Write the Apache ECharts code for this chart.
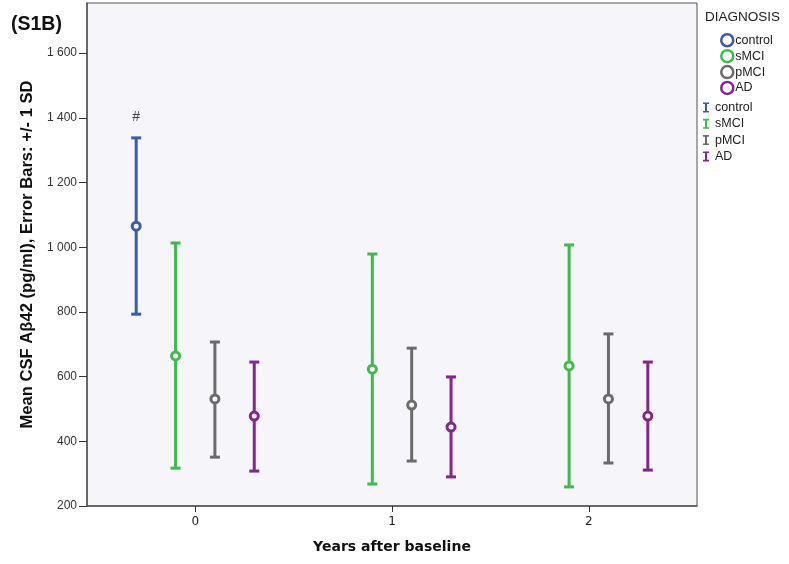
<!DOCTYPE html>
<html>
<head>
<meta charset="utf-8">
<script src="https://cdn.jsdelivr.net/npm/echarts@6/dist/echarts.min.js"></script>
<style>html,body{margin:0;padding:0;background:#fff}#c{width:789px;height:564px}</style>
</head>
<body>
<div id="c"></div>
<script>
const years = [0, 1, 2];
const groups = ['control', 'sMCI', 'pMCI', 'AD'];
const yTicks = [200, 400, 600, 800, 1000, 1200, 1400, 1600];
// mean and +/- 1 SD limits per group, per year (null = no data)
const meanControl = [1065, null, null];
const lowControl  = [793, null, null];
const highControl = [1338, null, null];
const meanSMCI = [664, 623, 633];
const lowSMCI  = [317, 268, 259];
const highSMCI = [1013, 979, 1007];
const meanPMCI = [531, 512, 531];
const lowPMCI  = [351, 339, 333];
const highPMCI = [707, 688, 732];
const meanAD = [478, 444, 478];
const lowAD  = [308, 290, 311];
const highAD = [645, 599, 645];
const annotations = [{ group: 'control', year: 0, text: '#' }];

const means = [meanControl, meanSMCI, meanPMCI, meanAD];
const lows = [lowControl, lowSMCI, lowPMCI, lowAD];
const highs = [highControl, highSMCI, highPMCI, highAD];
const colors = ['#3A5BAE', '#3DBC4C', '#6B6B6B', '#82288C'];
const dodge = [-0.3, -0.1, 0.1, 0.3];
const bg = '#F6F5FA';
const font = '"Liberation Sans", Arial, sans-serif';
const font2 = '"DejaVu Sans", Verdana, sans-serif';

function renderErr(params, api) {
  const x = api.value(0), lo = api.value(1), hi = api.value(2);
  const a = api.coord([x, lo]), b = api.coord([x, hi]);
  const w = 5;
  const st = { stroke: api.visual('color'), lineWidth: 3 };
  return { type: 'group', children: [
    { type: 'line', shape: { x1: a[0], y1: a[1], x2: b[0], y2: b[1] }, style: st },
    { type: 'line', shape: { x1: a[0] - w, y1: a[1], x2: a[0] + w, y2: a[1] }, style: st },
    { type: 'line', shape: { x1: b[0] - w, y1: b[1], x2: b[0] + w, y2: b[1] }, style: st }
  ]};
}

const series = [];
groups.forEach((g, i) => {
  const errData = [], meanData = [];
  years.forEach((yr, j) => {
    if (means[i][j] == null) return;
    errData.push([yr + dodge[i], lows[i][j], highs[i][j]]);
    meanData.push([yr + dodge[i], means[i][j]]);
  });
  series.push({ type: 'custom', name: g, renderItem: renderErr, data: errData,
    itemStyle: { color: colors[i] }, encode: { x: 0, y: [1, 2] }, z: 2 });
  series.push({ type: 'scatter', name: g, data: meanData, symbol: 'circle', symbolSize: 8,
    itemStyle: { color: bg, borderColor: colors[i], borderWidth: 3, opacity: 1 }, z: 3 });
});
annotations.forEach(an => {
  const i = groups.indexOf(an.group), j = years.indexOf(an.year);
  series.push({ type: 'scatter', name: 'annot', data: [[an.year + dodge[i], highs[i][j]]],
    symbolSize: 0, silent: true,
    label: { show: true, position: 'top', distance: 14, formatter: an.text,
      color: '#111', fontSize: 14, fontFamily: font } });
});

const fmt = v => String(v).replace(/\B(?=(\d{3})+(?!\d))/g, ' ');

const option = {
  animation: false,
  backgroundColor: '#fff',
  title: { text: '(S1B)', left: 6, top: 10, textStyle: { fontSize: 19.5, fontWeight: 'bold', color: '#111', fontFamily: font } },
  grid: { left: 87, right: 92, top: 3, bottom: 58, show: true, backgroundColor: bg, borderColor: '#555', borderWidth: 1 },
  xAxis: {
    type: 'value', min: -0.55, max: 2.55,
    name: 'Years after baseline', nameLocation: 'middle', nameGap: 34,
    nameTextStyle: { fontSize: 14, fontWeight: 'bold', color: '#111', fontFamily: font2 },
    axisLine: { show: true, onZero: false, lineStyle: { color: '#555', width: 1.5 } },
    axisTick: { show: true, length: 6, customValues: years, lineStyle: { color: '#333' } },
    axisLabel: { customValues: years, color: '#222', fontSize: 12, margin: 10, fontFamily: font2 },
    splitLine: { show: false }
  },
  yAxis: {
    type: 'value', min: 200, max: 1755,
    name: 'Mean CSF Aβ42 (pg/ml), Error Bars: +/- 1 SD', nameLocation: 'middle', nameGap: 50,
    nameTextStyle: { fontSize: 16.6, fontWeight: 'bold', color: '#111', fontFamily: font },
    axisLine: { show: true, onZero: false, lineStyle: { color: '#555', width: 1.5 } },
    axisTick: { show: true, length: 8, customValues: yTicks, lineStyle: { color: '#333' } },
    axisLabel: { customValues: yTicks, formatter: fmt, color: '#333', fontSize: 12, margin: 10, fontFamily: font },
    splitLine: { show: false }
  },
  legend: [
    { orient: 'vertical', left: 720, top: 33, padding: 0, itemWidth: 12, itemHeight: 12, itemGap: 1.4,
      selectedMode: false,
      textStyle: { fontSize: 12.5, lineHeight: 12, color: '#222', fontFamily: font, padding: [0, 0, 0, -3] },
      data: groups.map((g, i) => ({ name: g, icon: 'circle',
        itemStyle: { color: '#fff', borderColor: colors[i], borderWidth: 2.5 } })) },
    { orient: 'vertical', left: 703, top: 101, padding: 0, itemWidth: 6, itemHeight: 10, itemGap: 3.3,
      selectedMode: false,
      textStyle: { fontSize: 12.5, lineHeight: 12, color: '#222', fontFamily: font, padding: [0, 0, 0, 1] },
      data: groups.map((g, i) => ({ name: g,
        icon: 'path://M0,0H6V1.6H4V8.4H6V10H0V8.4H2V1.6H0Z',
        itemStyle: { color: colors[i], borderWidth: 0 } })) }
  ],
  graphic: [
    { type: 'text', left: 705, top: 10, style: { text: 'DIAGNOSIS', fontSize: 13.5, fill: '#222', fontFamily: font } }
  ],
  series
};
const chart = echarts.init(document.getElementById('c'), null, { renderer: 'canvas' });
chart.setOption(option);
</script>
</body>
</html>
